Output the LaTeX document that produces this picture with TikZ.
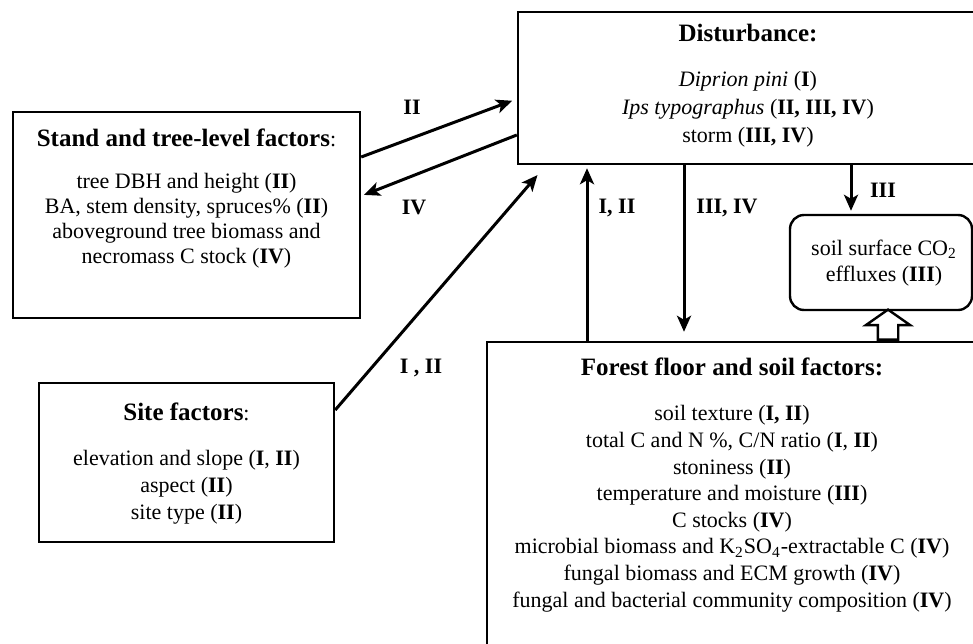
\documentclass[tikz,border=0pt]{standalone}
\usepackage{fontspec}
\setmainfont{Liberation Serif}
\usetikzlibrary{shapes,arrows.meta,positioning,calc}

\tikzset{
  box/.style={draw, line width=1.2pt, inner sep=0pt},
  txt/.style={align=center, inner sep=0pt, font=\fontsize{11}{13}\selectfont},
  lbl/.style={inner sep=1pt, font=\fontsize{11}{13}\selectfont\bfseries},
  arr/.style={line width=1.5pt, -{Stealth[length=8pt,width=7pt,inset=2pt]}},
  hollow/.style={draw, single arrow, rotate=90, line width=1.2pt, inner xsep=0pt, inner ysep=4.5pt,
    minimum height=15pt, single arrow head extend=6pt, single arrow tip angle=110},
}
\newcommand{\hdr}[1]{{\fontsize{12.5}{14}\selectfont\bfseries #1}}

\begin{document}
\begin{tikzpicture}[x=0.5pt, y=-0.5pt]
\path[use as bounding box, clip] (0,0) rectangle (973,643);

% boxes
\node[box, minimum width=230pt, minimum height=76pt] (dist) at (748,88) {};
\node[box, minimum width=173.5pt, minimum height=103pt] (stand) at (186.5,215) {};
\node[box, minimum width=147.5pt, minimum height=79.5pt] (site) at (186.5,462.5) {};
\node[box, minimum width=245pt, minimum height=159pt] (floor) at (732,501) {};
\node[box, rounded corners=7pt, minimum width=91pt, minimum height=47.5pt] (co2) at (881,262.5) {};

% box texts
\node[txt, font=\fontsize{11}{14}\selectfont, below=6.5pt of dist.north] (disttxt) {\hdr{Disturbance:}\\[8.5pt]
  \textit{Diprion pini} (\textbf{I})\\
  \textit{Ips typographus} (\textbf{II, III, IV})\\
  storm (\textbf{III, IV})};
\node[txt, font=\fontsize{11}{12.5}\selectfont, below=9pt of stand.north] (standtxt) {\hdr{Stand and tree-level factors}:\\[8.5pt]
  tree DBH and height (\textbf{II})\\
  BA, stem density, spruces\% (\textbf{II})\\
  aboveground tree biomass and\\
  necromass C stock (\textbf{IV})};
\node[txt, font=\fontsize{11}{13.5}\selectfont, below=10.5pt of site.north] (sitetxt) {\hdr{Site factors}:\\[9pt]
  elevation and slope (\textbf{I}, \textbf{II})\\
  aspect (\textbf{II})\\
  site type (\textbf{II})};
\node[txt, font=\fontsize{11}{13.3}\selectfont, below=8.5pt of floor.north] (floortxt) {\hdr{Forest floor and soil factors:}\\[9.2pt]
  soil texture (\textbf{I, II})\\
  total C and N \%, C/N ratio (\textbf{I}, \textbf{II})\\
  stoniness (\textbf{II})\\
  temperature and moisture (\textbf{III})\\
  C stocks (\textbf{IV})\\
  microbial biomass and K\textsubscript{2}SO\textsubscript{4}-extractable C (\textbf{IV})\\
  fungal biomass and ECM growth (\textbf{IV})\\
  fungal and bacterial community composition (\textbf{IV})};
\node[txt] (co2txt) at (884,263) {soil surface CO\textsubscript{2}\\ effluxes (\textbf{III})};

% hollow arrow
\node[hollow, anchor=tail] (up) at (floor.north -| 888,0) {};

% connectors
\draw[arr, shorten >=2.5pt] (stand.east |- 0,157) -- (dist.west |- 0,99);
\draw[arr, shorten >=1.5pt] (dist.west |- 0,135) -- (stand.east |- 0,196);
\draw[arr, shorten >=6.5pt] (site.east |- 0,410) -- (dist.south -| 546,0);
\draw[arr, shorten >=1.5pt] (floor.north -| 587,0) -- (dist.south -| 587,0);
\draw[arr, shorten >=4.5pt] (dist.south -| 684,0) -- (floor.north -| 684,0);
\draw[arr, shorten >=1.5pt] (dist.south -| 851,0) -- (co2.north -| 851,0);

% labels
\node[lbl] (l2) at (412,107) {II};
\node[lbl] (l4) at (414,207) {IV};
\node[lbl] (l12a) at (421,368) {I , II};
\node[lbl] (l12b) at (617,208) {I, II};
\node[lbl] (l34) at (727,208) {III, IV};
\node[lbl] (l3) at (883,190) {III};
\end{tikzpicture}
\end{document}
